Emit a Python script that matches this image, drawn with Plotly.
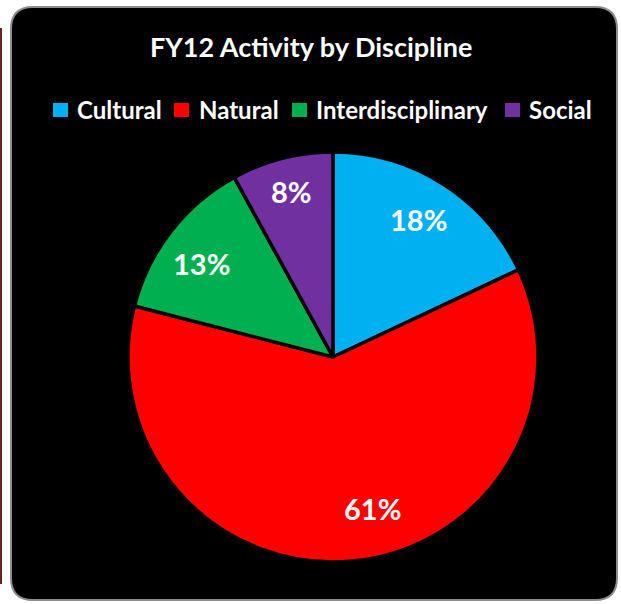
import plotly.graph_objects as go

# ---- data ----
categories = ["Cultural", "Natural", "Interdisciplinary", "Social"]
values = [18, 61, 13, 8]
colors = ["#00B0F0", "#FF0000", "#00B050", "#7030A0"]
title_text = "FY12 Activity by Discipline"

W, H = 621, 604
FONT = "Lato"


def px(x):
    return x / W


def py(y):
    return 1 - y / H


fig = go.Figure()
fig.add_trace(go.Pie(
    labels=categories,
    values=values,
    sort=False,
    direction="clockwise",
    rotation=0,
    marker=dict(colors=colors, line=dict(color="#000000", width=3.5)),
    textinfo="none",
    domain=dict(x=[px(128), px(538)], y=[py(562), py(152)]),
    showlegend=False,
    hoverinfo="label+percent",
))

# background rounded box
x0, x1, y0, y1, r = 11, 617, 7, 600, 22
rx, ry = r / W, r / H
path = (
    f"M {px(x0)+rx},{py(y0)} L {px(x1)-rx},{py(y0)} "
    f"Q {px(x1)},{py(y0)} {px(x1)},{py(y0)-ry} "
    f"L {px(x1)},{py(y1)+ry} Q {px(x1)},{py(y1)} {px(x1)-rx},{py(y1)} "
    f"L {px(x0)+rx},{py(y1)} Q {px(x0)},{py(y1)} {px(x0)},{py(y1)+ry} "
    f"L {px(x0)},{py(y0)-ry} Q {px(x0)},{py(y0)} {px(x0)+rx},{py(y0)} Z"
)
shapes = [
    dict(type="path", xref="paper", yref="paper", path=path,
         fillcolor="#000000", line=dict(color="#8c8c8c", width=2), layer="below"),
    dict(type="line", xref="paper", yref="paper", x0=px(1), x1=px(1), y0=py(28), y1=py(584),
         line=dict(color="#6b2222", width=2), layer="below"),
]

annotations = [dict(
    text=f"<b>{title_text}</b>", x=px(311), y=py(46), xref="paper", yref="paper",
    showarrow=False, xanchor="center", yanchor="middle",
    font=dict(family=FONT, size=27, color="white"),
)]

# custom legend: swatch left edges and text left edges (pixels)
swatch_x = [53, 174, 292, 505]
text_x = [75, 197, 314, 527]
for cat, col, sx, tx in zip(categories, colors, swatch_x, text_x):
    shapes.append(dict(type="rect", xref="paper", yref="paper",
                       x0=px(sx), x1=px(sx + 15), y0=py(117), y1=py(103),
                       fillcolor=col, line=dict(width=0), layer="above"))
    annotations.append(dict(
        text=f"<b>{cat}</b>", x=px(tx), y=py(110), xref="paper", yref="paper",
        showarrow=False, xanchor="left", yanchor="middle",
        font=dict(family=FONT, size=24, color="white"),
    ))

# percentage labels (label centre positions in pixels)
label_pos = [(418, 219), (372, 508), (201, 263), (291, 191)]
total = sum(values)
for v, (lx, ly) in zip(values, label_pos):
    annotations.append(dict(
        text=f"<b>{round(v / total * 100)}%</b>", x=px(lx), y=py(ly),
        xref="paper", yref="paper", showarrow=False,
        xanchor="center", yanchor="middle",
        font=dict(family=FONT, size=29, color="white"),
    ))

fig.update_layout(
    width=W, height=H,
    margin=dict(l=0, r=0, t=0, b=0),
    paper_bgcolor="#ffffff",
    plot_bgcolor="#ffffff",
    shapes=shapes,
    annotations=annotations,
    showlegend=False,
)

fig.write_html("out.html", config={"displayModeBar": False},
               post_script="document.body.style.margin='0';")
